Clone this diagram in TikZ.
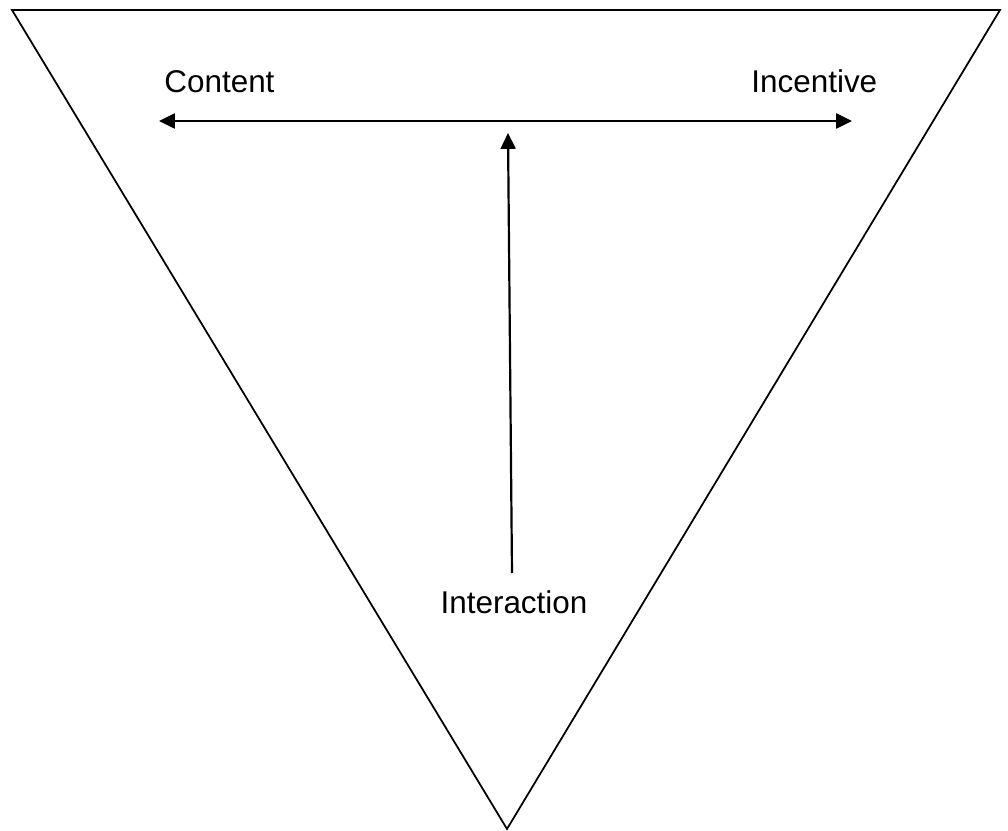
\documentclass[tikz,border=0pt]{standalone}
\usepackage{fontspec}
\setmainfont{Liberation Sans}
\usetikzlibrary{arrows.meta}

\tikzset{
    label text/.style={font=\fontsize{17.9pt}{21pt}\selectfont, inner sep=0pt},
    frame line/.style={line width=1pt, line join=miter},
    link arrow/.style={line width=1.25pt, -{Triangle[length=9pt,width=8.5pt]}},
    both arrow/.style={line width=1.25pt, {Triangle[length=9pt,width=8.5pt]}-{Triangle[length=9pt,width=8.5pt]}}
}

\begin{document}
\begin{tikzpicture}[x=0.02cm, y=-0.02cm]
    \useasboundingbox (0,0) rectangle (1008,831);

    % triangle
    \coordinate (topleft) at (12,10);
    \coordinate (topright) at (1000,10);
    \coordinate (bottom) at (507,829);
    \draw[frame line] (topleft) -- (topright) -- (bottom) -- cycle;

    % labels
    \node[label text, anchor=base west] (content) at (164,93) {Content};
    \node[label text, anchor=base west] (incentive) at (751,93) {Incentive};
    \node[label text, anchor=base] (interaction) at (514,613) {Interaction};

    % arrows
    \coordinate (leftend) at (159,121);
    \coordinate (rightend) at (852,121);
    \coordinate (interstart) at (512,573);
    \coordinate (intertop) at (508,133);
    \draw[both arrow] (leftend) -- (rightend);
    \draw[link arrow] (interstart) -- (intertop);
\end{tikzpicture}
\end{document}
